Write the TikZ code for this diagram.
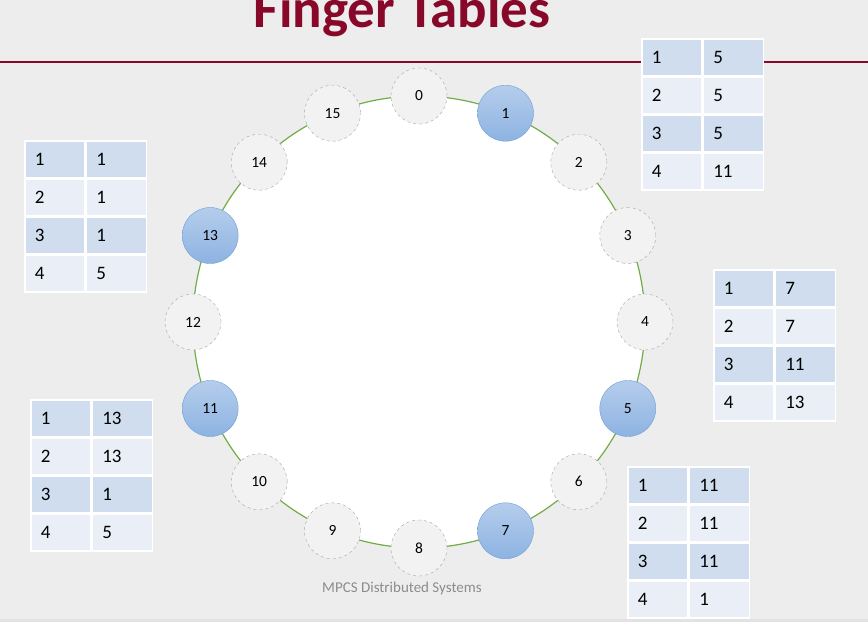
\documentclass[tikz,border=0pt]{standalone}
\usepackage{fontspec}
\setmainfont{Carlito}
\usetikzlibrary{positioning}

\definecolor{slidegray}{HTML}{EDEDED}
\definecolor{stripgray}{HTML}{E2E2E2}
\definecolor{titlered}{RGB}{136,8,42}
\definecolor{ringgreen}{HTML}{70AD47}
\definecolor{peerfill}{HTML}{F2F2F2}
\definecolor{peerline}{HTML}{A6A6A6}
\definecolor{livetop}{HTML}{B5CDEC}
\definecolor{livebot}{HTML}{8DB3E2}
\definecolor{liveline}{HTML}{6A9FD8}
\definecolor{row1}{HTML}{CFDDEE}
\definecolor{row2}{HTML}{E9EEF7}
\definecolor{row3}{HTML}{CFDDEE}
\definecolor{row4}{HTML}{E9EEF7}
\definecolor{footgray}{HTML}{8C8C8C}

\tikzset{
  idle/.style={circle, minimum size=56pt, inner sep=0pt, draw=peerline,
    dashed, fill=peerfill, font=\fontsize{15.5}{17}\selectfont},
  live/.style={circle, minimum size=56pt, inner sep=0pt, draw=liveline,
    top color=livetop, bottom color=livebot, font=\fontsize{15.5}{17}\selectfont},
  cell/.style={rectangle, draw=white, line width=1.5pt, text width=40pt,
    inner xsep=10pt, inner ysep=0pt, minimum height=37pt, align=left,
    font=\fontsize{19}{21}\selectfont}
}

\begin{document}
\begin{tikzpicture}[x=1pt, y=-1pt]
  % slide background
  \fill[slidegray] (0,0) rectangle (868,622);
  \fill[stripgray] (0,619) rectangle (868,622);
  \useasboundingbox (0,0) rectangle (868,622);

  % title and rule
  \node[anchor=base, text=titlered, font=\fontsize{55}{60}\selectfont\bfseries]
    (title) at (402,27) {Finger Tables};
  \draw[titlered, line width=1.5pt] (0,62) -- (868,62);

  % ring of identifiers
  \begin{scope}[shift={(419,322)}]
    \draw[ringgreen, line width=1.2pt, fill=white] (0,0) circle (226pt);
    \foreach \k/\s in {0/idle,1/live,2/idle,3/idle,4/idle,5/live,6/idle,7/live,
                       8/idle,9/idle,10/idle,11/live,12/idle,13/live,14/idle,15/idle} {
      \node[\s] (n\k) at ({90-22.5*\k}:226pt) {\k};
    }
  \end{scope}

  % finger tables
  \foreach \tname/\tx/\ty/\va/\vb/\vc/\vd in {tA/641/38/5/5/5/11, tB/713/269/7/7/11/13,
      tC/627/466/11/11/11/1, tD/24/140/1/1/1/5, tE/30/399/13/13/1/5} {
    \foreach \i/\v in {1/\va,2/\vb,3/\vc,4/\vd} {
      \node[cell, fill=row\i, anchor=north west] (\tname k\i) at (\tx,{\ty+38*(\i-1)}) {\i};
      \node[cell, fill=row\i, anchor=west] (\tname v\i) at (\tname k\i.east) {\v};
    }
  }

  \node[anchor=base, text=footgray, font=\fontsize{15}{17}\selectfont]
    (foot) at (402,592) {MPCS Distributed Systems};
\end{tikzpicture}
\end{document}
